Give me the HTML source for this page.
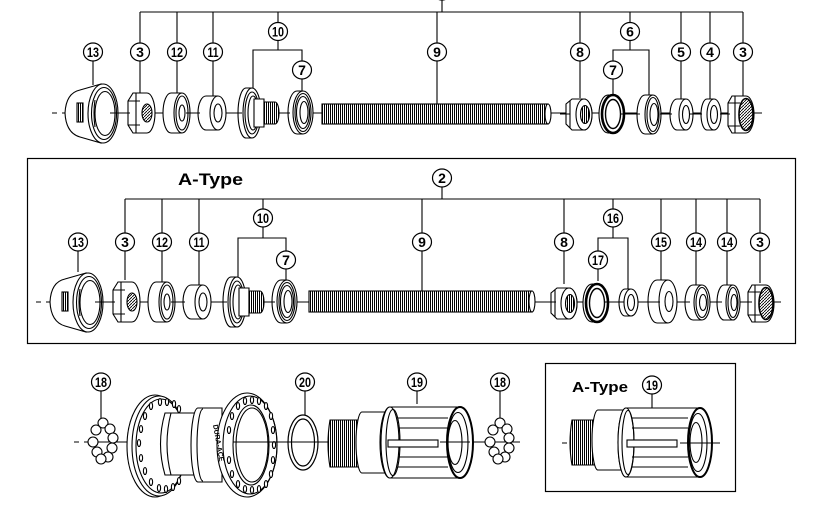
<!DOCTYPE html>
<html><head><meta charset="utf-8"><style>
html,body{margin:0;padding:0;background:#fff;}
svg{display:block;}
text{font-family:"Liberation Sans",sans-serif;font-weight:bold;fill:#000;}
.lb ellipse{fill:#fff;stroke:#000;stroke-width:1.2;}
.lb text{font-size:14px;text-anchor:middle;}
</style></head><body>
<svg width="814" height="507" viewBox="0 0 814 507" xmlns="http://www.w3.org/2000/svg">
<defs>
<pattern id="th" width="2" height="10" patternUnits="userSpaceOnUse"><rect width="2" height="10" fill="#fff"/><rect width="1" height="10" fill="#000"/></pattern>
<pattern id="hx" width="3" height="3" patternUnits="userSpaceOnUse"><rect width="3" height="3" fill="#fff"/><path d="M0,3 L3,0" stroke="#000" stroke-width="0.9"/></pattern>

<g id="p13" stroke="#000" stroke-width="1.1" fill="#fff">
<path d="M101,84 L80,90 Q66,93 65,113 Q66,133 80,137 L101,143 Z"/>
<rect x="77" y="103" width="6" height="19" fill="url(#th)"/>
<ellipse cx="103" cy="113.5" rx="15" ry="29.5"/>
<ellipse cx="104" cy="113.5" rx="12.5" ry="26" fill="none"/>
<ellipse cx="105" cy="113.5" rx="10" ry="22" fill="none"/>
<path d="M95,100 Q93,113 95,127" fill="none"/>
</g>
<g id="p3" stroke="#000" stroke-width="1.1" fill="#fff">
<path d="M133,93 H147 A8,20 0 0 1 147,133 H133 L128,125 V101 Z"/>
<path d="M128,101 H140 M128,125 H140 M136,93 V133" fill="none"/>
<ellipse cx="147" cy="113" rx="5" ry="9" fill="url(#hx)"/>
</g>
<g id="p12" stroke="#000" stroke-width="1.1" fill="#fff">
<path d="M182,93 H171 A8,20 0 0 0 171,133 H182"/>
<ellipse cx="182" cy="113" rx="8" ry="20"/>
<ellipse cx="182" cy="113" rx="6" ry="17" fill="none"/>
<ellipse cx="182" cy="113" rx="3" ry="8"/>
</g>
<g id="p11" stroke="#000" stroke-width="1.1" fill="#fff">
<path d="M218,96 H206 A8,17 0 0 0 206,130 H218"/>
<ellipse cx="218" cy="113" rx="8" ry="17"/>
<ellipse cx="218" cy="113" rx="4" ry="9"/>
</g>
<g id="p10" stroke="#000" stroke-width="1.1" fill="#fff">
<path d="M252,88 H246 A8,25 0 0 0 246,138 H252"/>
<ellipse cx="252" cy="113" rx="9" ry="25"/>
<ellipse cx="252" cy="113" rx="7" ry="21" fill="none"/>
<ellipse cx="253" cy="113" rx="5" ry="17" fill="none"/>
<path d="M254,99 H264 V127 H254 Z"/>
<path d="M264,102 H275 A4,11 0 0 1 275,124 H264 Z" fill="url(#th)"/>
</g>
<g id="p7" stroke="#000" stroke-width="1.1" fill="#fff">
<path d="M303,91 H297 A9,21.5 0 0 0 297,134 H303"/>
<ellipse cx="303" cy="112.5" rx="10" ry="21.5"/>
<ellipse cx="303" cy="112.5" rx="8" ry="19" fill="none"/>
<ellipse cx="303" cy="112.5" rx="6.5" ry="16" fill="none"/>
<ellipse cx="304" cy="112.5" rx="4" ry="11" fill="none"/>
</g>
<g id="p8" stroke="#000" stroke-width="1.1" fill="#fff">
<path d="M566,104 L572,99 H584 A8,15.5 0 0 1 584,130 H572 L566,124 Z"/>
<path d="M570,101 V128" fill="none"/>
<ellipse cx="584" cy="114.5" rx="8" ry="15.5"/>
<ellipse cx="585" cy="114.5" rx="4.5" ry="9" fill="url(#th)"/>
</g>
<g id="p7r" stroke="#000" stroke-width="1.1" fill="#fff">
<path d="M613,95 H608 A9,19 0 0 0 608,133 H613"/>
<ellipse cx="613" cy="114" rx="11" ry="19" stroke-width="2.6"/>
<ellipse cx="613" cy="114" rx="7.5" ry="14.5" stroke-width="1.4"/>
</g>
<g id="p3r" stroke="#000" stroke-width="1.1" fill="#fff">
<path d="M732,96 H746 A8,18.5 0 0 1 746,133 H732 L728,126 V103 Z"/>
<path d="M728,103 H740 M728,126 H740 M735,96 V133" fill="none"/>
<ellipse cx="746" cy="114.5" rx="7" ry="16" fill="url(#hx)" stroke-width="1.6"/>
</g>
</defs>

<!-- ============ TOP ROW ============ -->
<g stroke="#000" stroke-width="1.1" fill="none">
<path d="M140,12 H743 M442,0 V12"/>
<path d="M140,12 V43 M140,61 V93"/>
<path d="M177,12 V43 M177,61 V93"/>
<path d="M213,12 V43 M213,61 V96"/>
<path d="M278,12 V22 M278,41 V50 M253,88 V50 H302 V61 M302,79 V91"/>
<path d="M93,61 V85"/>
<path d="M437,12 V43 M437,61 V104"/>
<path d="M580,12 V43 M580,61 V98"/>
<path d="M630,12 V22 M630,41 V50 M613,61 V50 H649 V95 M613,79 V95"/>
<path d="M681,12 V43 M681,61 V99"/>
<path d="M710,12 V43 M710,61 V99"/>
<path d="M743,12 V43 M743,61 V96"/>
<path d="M52,113 H57 M62,113 H762" stroke-width="1"/>
</g>
<g class="lb"><ellipse cx="442" cy="-9" rx="9.5" ry="9"/></g>
<use href="#p13"/><use href="#p3"/><use href="#p12"/><use href="#p11"/><use href="#p10"/><use href="#p7"/>
<g stroke="#000" stroke-width="1.1">
<rect x="322" y="104" width="226" height="20" fill="url(#th)"/>
<ellipse cx="548" cy="114" rx="3" ry="10" fill="#fff"/>
</g>
<use href="#p8"/><use href="#p7r"/>
<g stroke="#000" stroke-width="1.1" fill="#fff">
<path d="M653,95 H645 A8,19.5 0 0 0 645,134 H653"/>
<ellipse cx="653" cy="114.5" rx="8" ry="19.5"/>
<ellipse cx="653" cy="114.5" rx="6" ry="17" fill="none"/>
<ellipse cx="654" cy="114.5" rx="4" ry="11"/>
<path d="M686,99 H677 A7,15.5 0 0 0 677,130 H686"/>
<ellipse cx="686" cy="114.5" rx="7" ry="15.5"/>
<ellipse cx="686" cy="114.5" rx="3.5" ry="9"/>
<path d="M714,99 H707 A6,15.5 0 0 0 707,130 H714"/>
<ellipse cx="714" cy="114.5" rx="7" ry="15.5"/>
<ellipse cx="714" cy="114.5" rx="3.5" ry="9"/>
</g>
<use href="#p3r"/>
<path d="M110,113 H130 M186,113 H200 M230,113 H242 M283,113 H290 M560,114 H570 M620,114 H640 M660,114 H672 M690,114 H702 M720,114 H730" stroke="#000" stroke-width="1"/>

<g class="lb"><ellipse cx="93" cy="52" rx="9.5" ry="9"/><text x="93" y="57" textLength="12" lengthAdjust="spacingAndGlyphs">13</text></g>
<g class="lb"><ellipse cx="140" cy="52" rx="9.5" ry="9"/><text x="140" y="57">3</text></g>
<g class="lb"><ellipse cx="177" cy="52" rx="9.5" ry="9"/><text x="177" y="57" textLength="12" lengthAdjust="spacingAndGlyphs">12</text></g>
<g class="lb"><ellipse cx="213" cy="52" rx="9.5" ry="9"/><text x="213" y="57" textLength="11" lengthAdjust="spacingAndGlyphs">11</text></g>
<g class="lb"><ellipse cx="278" cy="31.5" rx="9.5" ry="9"/><text x="278" y="36.5" textLength="12" lengthAdjust="spacingAndGlyphs">10</text></g>
<g class="lb"><ellipse cx="302" cy="70" rx="9.5" ry="9"/><text x="302" y="75">7</text></g>
<g class="lb"><ellipse cx="437" cy="52" rx="9.5" ry="9"/><text x="437" y="57">9</text></g>
<g class="lb"><ellipse cx="580" cy="52" rx="9.5" ry="9"/><text x="580" y="57">8</text></g>
<g class="lb"><ellipse cx="630" cy="31.5" rx="9.5" ry="9"/><text x="630" y="36.5">6</text></g>
<g class="lb"><ellipse cx="613" cy="70" rx="9.5" ry="9"/><text x="613" y="75">7</text></g>
<g class="lb"><ellipse cx="681" cy="52" rx="9.5" ry="9"/><text x="681" y="57">5</text></g>
<g class="lb"><ellipse cx="710" cy="52" rx="9.5" ry="9"/><text x="710" y="57">4</text></g>
<g class="lb"><ellipse cx="743" cy="52" rx="9.5" ry="9"/><text x="743" y="57">3</text></g>

<!-- ============ MIDDLE (A-Type) ============ -->
<rect x="27.5" y="158.5" width="768" height="185" fill="none" stroke="#000" stroke-width="1.2"/>
<text x="178" y="185" font-size="17" textLength="65" lengthAdjust="spacingAndGlyphs">A-Type</text>
<g stroke="#000" stroke-width="1.1" fill="none">
<path d="M125,199 H760 M442,187 V199"/>
<path d="M125,199 V233 M125,251 V280"/>
<path d="M162,199 V233 M162,251 V283"/>
<path d="M199,199 V233 M199,251 V285"/>
<path d="M263,199 V209 M263,227 V238 M238,277 V238 H286 V251 M286,269 V282"/>
<path d="M78,251 V272"/>
<path d="M422,199 V233 M422,251 V291"/>
<path d="M564,199 V233 M564,251 V284"/>
<path d="M613,199 V209 M613,227 V238 M598,251 V238 H628 V289 M598,269 V281"/>
<path d="M661,199 V233 M661,251 V280"/>
<path d="M696,199 V233 M696,251 V285"/>
<path d="M727,199 V233 M727,251 V285"/>
<path d="M760,199 V233 M760,251 V283"/>
<path d="M36,302 H41 M46,302 H781" stroke-width="1"/>
</g>
<g transform="translate(-15,189)">
<use href="#p13"/><use href="#p3"/><use href="#p12"/><use href="#p11"/><use href="#p10"/><use href="#p7" transform="translate(-1,0)"/>
<use href="#p8"/><use href="#p7r" transform="translate(-1,0)"/>
</g>
<g stroke="#000" stroke-width="1.1">
<rect x="309" y="291" width="223" height="21" fill="url(#th)"/>
<ellipse cx="532" cy="301.5" rx="3" ry="10.5" fill="#fff"/>
</g>
<g stroke="#000" stroke-width="1.1" fill="#fff">
<path d="M631,289 H625 A6,13.5 0 0 0 625,316 H631"/>
<ellipse cx="631" cy="302.5" rx="7" ry="13.5"/>
<ellipse cx="631" cy="302.5" rx="3.5" ry="8"/>
<path d="M668,280 H657 A9,21.5 0 0 0 657,323 H668"/>
<ellipse cx="668" cy="301.5" rx="9" ry="21.5"/>
<ellipse cx="669" cy="301.5" rx="4" ry="10"/>
<path d="M702,285 H693 A8,17.5 0 0 0 693,320 H702"/>
<ellipse cx="702" cy="302.5" rx="8" ry="17.5"/>
<ellipse cx="702" cy="302.5" rx="6" ry="15" fill="none"/>
<ellipse cx="703" cy="302.5" rx="3.5" ry="8"/>
<path d="M733,285 H724 A7,17.5 0 0 0 724,320 H733"/>
<ellipse cx="733" cy="302.5" rx="7" ry="17.5"/>
<ellipse cx="733" cy="302.5" rx="5" ry="15" fill="none"/>
<ellipse cx="734" cy="302.5" rx="3" ry="8"/>
</g>
<use href="#p3r" transform="translate(20,189)"/>
<path d="M95,302 H115 M171,302 H185 M215,302 H227 M268,302 H275 M545,302 H556 M605,302 H624 M640,302 H660 M678,302 H690 M710,302 H722 M740,302 H752" stroke="#000" stroke-width="1"/>

<g class="lb"><ellipse cx="442" cy="178" rx="9.5" ry="9"/><text x="442" y="183">2</text></g>
<g class="lb"><ellipse cx="78" cy="242" rx="9.5" ry="9"/><text x="78" y="247" textLength="12" lengthAdjust="spacingAndGlyphs">13</text></g>
<g class="lb"><ellipse cx="125" cy="242" rx="9.5" ry="9"/><text x="125" y="247">3</text></g>
<g class="lb"><ellipse cx="162" cy="242" rx="9.5" ry="9"/><text x="162" y="247" textLength="12" lengthAdjust="spacingAndGlyphs">12</text></g>
<g class="lb"><ellipse cx="199" cy="242" rx="9.5" ry="9"/><text x="199" y="247" textLength="11" lengthAdjust="spacingAndGlyphs">11</text></g>
<g class="lb"><ellipse cx="263" cy="218" rx="9.5" ry="9"/><text x="263" y="223" textLength="12" lengthAdjust="spacingAndGlyphs">10</text></g>
<g class="lb"><ellipse cx="286" cy="260" rx="9.5" ry="9"/><text x="286" y="265">7</text></g>
<g class="lb"><ellipse cx="422" cy="242" rx="9.5" ry="9"/><text x="422" y="247">9</text></g>
<g class="lb"><ellipse cx="564" cy="242" rx="9.5" ry="9"/><text x="564" y="247">8</text></g>
<g class="lb"><ellipse cx="613" cy="218" rx="9.5" ry="9"/><text x="613" y="223" textLength="12" lengthAdjust="spacingAndGlyphs">16</text></g>
<g class="lb"><ellipse cx="598" cy="260" rx="9.5" ry="9"/><text x="598" y="265" textLength="12" lengthAdjust="spacingAndGlyphs">17</text></g>
<g class="lb"><ellipse cx="661" cy="242" rx="9.5" ry="9"/><text x="661" y="247" textLength="12" lengthAdjust="spacingAndGlyphs">15</text></g>
<g class="lb"><ellipse cx="696" cy="242" rx="9.5" ry="9"/><text x="696" y="247" textLength="12" lengthAdjust="spacingAndGlyphs">14</text></g>
<g class="lb"><ellipse cx="727" cy="242" rx="9.5" ry="9"/><text x="727" y="247" textLength="12" lengthAdjust="spacingAndGlyphs">14</text></g>
<g class="lb"><ellipse cx="760" cy="242" rx="9.5" ry="9"/><text x="760" y="247">3</text></g>

<!-- ============ BOTTOM ============ -->
<g stroke="#000" stroke-width="1.1" fill="none">
<path d="M101,391 V418 M305,391 V415 M417,391 V404 M500,391 V418"/>
<path d="M74,442 H79 M84,442 H520" stroke-width="1"/>
</g>
<g stroke="#000" stroke-width="1.1" fill="#fff">
<circle cx="103" cy="423" r="5"/><circle cx="110" cy="429" r="5"/><circle cx="96" cy="430" r="5"/>
<circle cx="113" cy="438" r="5"/><circle cx="93" cy="442" r="5"/><circle cx="112" cy="448" r="5"/>
<circle cx="97" cy="452" r="5"/><circle cx="108" cy="457" r="5"/><circle cx="101" cy="459" r="5"/>
</g>
<g stroke="#000" stroke-width="1.1" fill="#fff">
<circle cx="500" cy="423" r="5"/><circle cx="507" cy="429" r="5"/><circle cx="493" cy="430" r="5"/>
<circle cx="509" cy="438" r="5"/><circle cx="490" cy="442" r="5"/><circle cx="509" cy="448" r="5"/>
<circle cx="494" cy="452" r="5"/><circle cx="505" cy="457" r="5"/><circle cx="498" cy="459" r="5"/>
</g>
<g stroke="#000" stroke-width="1.1" fill="#fff">
<ellipse cx="155" cy="446" rx="28" ry="51"/>
<ellipse cx="159" cy="446" rx="27" ry="50"/>
<ellipse cx="161" cy="446" rx="25" ry="47" fill="none"/>
<g fill="#fff">
<ellipse cx="160" cy="402" rx="1.6" ry="3.5"/><ellipse cx="167" cy="402" rx="1.6" ry="3.5"/><ellipse cx="174" cy="404" rx="1.6" ry="3.5"/><ellipse cx="179" cy="409" rx="1.6" ry="3.5"/>
<ellipse cx="151" cy="406" rx="1.6" ry="3.5"/><ellipse cx="145" cy="416" rx="1.6" ry="3.5"/><ellipse cx="141" cy="429" rx="1.6" ry="3.5"/>
<ellipse cx="139" cy="443" rx="1.6" ry="3.5"/><ellipse cx="141" cy="458" rx="1.6" ry="3.5"/><ellipse cx="145" cy="471" rx="1.6" ry="3.5"/>
<ellipse cx="151" cy="482" rx="1.6" ry="3.5"/><ellipse cx="159" cy="488" rx="1.6" ry="3.5"/><ellipse cx="166" cy="489" rx="1.6" ry="3.5"/><ellipse cx="173" cy="487" rx="1.6" ry="3.5"/><ellipse cx="179" cy="481" rx="1.6" ry="3.5"/>
</g>
<path d="M165,413 H200 V475 H165 Q156,444 165,413 Z"/>
<path d="M171,413 Q163,444 171,475" fill="none"/>
<path d="M198,408 H222 V482 H198 A7,37 0 0 1 198,408 Z"/>
<path d="M203,409 A6,36 0 0 0 203,481" fill="none"/>
<ellipse cx="247" cy="445" rx="30" ry="52"/>
<ellipse cx="250" cy="445" rx="27" ry="49" fill="none"/>
<ellipse cx="251" cy="445" rx="18" ry="40"/>
<ellipse cx="252" cy="445" rx="16" ry="37" fill="none"/>
<g>
<ellipse cx="238" cy="406" rx="1.6" ry="3.5"/><ellipse cx="245" cy="401" rx="1.6" ry="3.5"/><ellipse cx="252" cy="400" rx="1.6" ry="3.5"/><ellipse cx="259" cy="401" rx="1.6" ry="3.5"/><ellipse cx="266" cy="406" rx="1.6" ry="3.5"/>
<ellipse cx="271" cy="416" rx="1.6" ry="3.5"/><ellipse cx="273" cy="430" rx="1.6" ry="3.5"/><ellipse cx="274" cy="445" rx="1.6" ry="3.5"/><ellipse cx="273" cy="460" rx="1.6" ry="3.5"/><ellipse cx="271" cy="474" rx="1.6" ry="3.5"/>
<ellipse cx="266" cy="484" rx="1.6" ry="3.5"/><ellipse cx="259" cy="489" rx="1.6" ry="3.5"/><ellipse cx="252" cy="490" rx="1.6" ry="3.5"/><ellipse cx="245" cy="489" rx="1.6" ry="3.5"/><ellipse cx="238" cy="484" rx="1.6" ry="3.5"/>
<ellipse cx="232" cy="474" rx="1.6" ry="3.5"/><ellipse cx="229" cy="460" rx="1.6" ry="3.5"/><ellipse cx="229" cy="430" rx="1.6" ry="3.5"/><ellipse cx="232" cy="416" rx="1.6" ry="3.5"/>
</g>
</g>
<text x="0" y="0" font-size="7" transform="translate(213,425) rotate(80)">DURA-ACE</text>
<path d="M233,442 H290" stroke="#000" stroke-width="1"/>
<g stroke="#000" stroke-width="1.2" fill="none">
<ellipse cx="303" cy="442.5" rx="15" ry="27.5"/>
<ellipse cx="303" cy="442.5" rx="11.5" ry="23.5"/>
</g>
<g stroke="#000" stroke-width="1.1" fill="#fff">
<path d="M330,420 H358 V467 H330 Q326,444 330,420 Z" fill="url(#th)"/>
<path d="M362,412 H398 V473 H362 A6,30.5 0 0 1 362,412 Z"/>
<path d="M390,407 H460 A13,35.5 0 0 1 460,478 H390 A10,35.5 0 0 1 390,407 Z"/>
<ellipse cx="390" cy="442.5" rx="9" ry="35.5"/>
<ellipse cx="393" cy="442.5" rx="7" ry="33" fill="none"/>
<path d="M398,418 H448 M398,428 H448 M398,457 H448 M398,467 H448" fill="none"/>
<rect x="388" y="440" width="50" height="7"/>
<ellipse cx="460" cy="442.5" rx="13" ry="35.5" stroke-width="2"/>
<ellipse cx="458" cy="442.5" rx="10" ry="30"/>
<ellipse cx="455" cy="442.5" rx="7" ry="22"/>
</g>
<path d="M440,442 H470" stroke="#000" stroke-width="1"/>
<g class="lb"><ellipse cx="101" cy="382" rx="9.5" ry="9"/><text x="101" y="387" textLength="12" lengthAdjust="spacingAndGlyphs">18</text></g>
<g class="lb"><ellipse cx="305" cy="382" rx="9.5" ry="9"/><text x="305" y="387" textLength="12" lengthAdjust="spacingAndGlyphs">20</text></g>
<g class="lb"><ellipse cx="417" cy="382" rx="9.5" ry="9"/><text x="417" y="387" textLength="12" lengthAdjust="spacingAndGlyphs">19</text></g>
<g class="lb"><ellipse cx="500" cy="382" rx="9.5" ry="9"/><text x="500" y="387" textLength="12" lengthAdjust="spacingAndGlyphs">18</text></g>

<rect x="545.5" y="363.5" width="190" height="128" fill="none" stroke="#000" stroke-width="1.2"/>
<text x="572" y="392" font-size="15" textLength="56" lengthAdjust="spacingAndGlyphs">A-Type</text>
<path d="M652,394 V408 M562,443 H567 M572,443 H720" stroke="#000" stroke-width="1.1" fill="none"/>
<g stroke="#000" stroke-width="1.1" fill="#fff">
<path d="M572,420 H594 V465 H572 Q568,443 572,420 Z" fill="url(#th)"/>
<path d="M598,410 H628 V470 H598 A6,30 0 0 1 598,410 Z"/>
<path d="M626,408 H700 A12,34.5 0 0 1 700,477 H626 A8,34.5 0 0 1 626,408 Z"/>
<ellipse cx="626" cy="442.5" rx="8" ry="34.5"/>
<ellipse cx="628" cy="442.5" rx="6" ry="32" fill="none"/>
<path d="M632,418 H688 M632,428 H688 M632,457 H688 M632,467 H688" fill="none"/>
<rect x="627" y="440" width="50" height="7"/>
<ellipse cx="700" cy="442.5" rx="12" ry="34.5" stroke-width="2"/>
<ellipse cx="698" cy="442.5" rx="9" ry="29"/>
<ellipse cx="696" cy="442.5" rx="6" ry="20"/>
</g>
<path d="M680,443 H720" stroke="#000" stroke-width="1"/>
<g class="lb"><ellipse cx="652" cy="385" rx="9.5" ry="9"/><text x="652" y="390" textLength="12" lengthAdjust="spacingAndGlyphs">19</text></g>
</svg>
</body></html>
